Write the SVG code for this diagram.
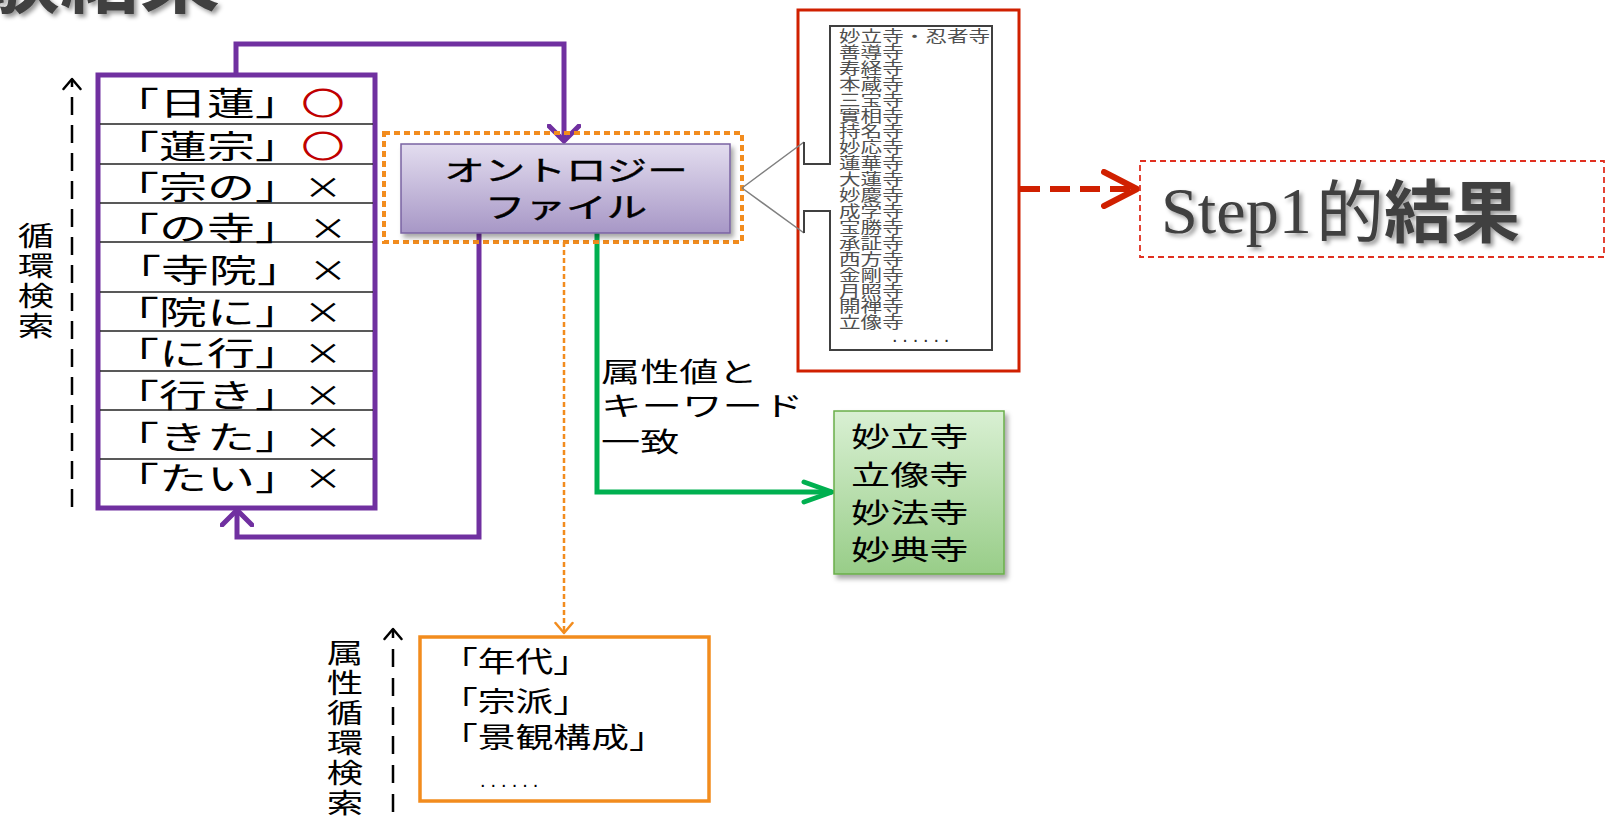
<svg xmlns="http://www.w3.org/2000/svg" width="1614" height="829" viewBox="0 0 1614 829">
<style>
.jp{font-family:"Noto Sans CJK JP","Noto Sans",sans-serif;fill:#000}
.row{font-size:32px}
.mk{font-size:30px}
.lab{font-size:27px}
.vt{font-size:27px;text-anchor:middle}
.lst{font-size:20px;fill:#505050}
.pur{fill:none;stroke:#7030a0;stroke-width:5}
.rl{stroke:#222;stroke-width:1.6}
</style>
<defs>
<linearGradient id="gP" x1="0" y1="0" x2="0" y2="1"><stop offset="0" stop-color="#e3ddef"/><stop offset="1" stop-color="#a797c6"/></linearGradient>
<linearGradient id="gG" x1="0" y1="0" x2="0" y2="1"><stop offset="0" stop-color="#d9f0d3"/><stop offset="1" stop-color="#98cd88"/></linearGradient>
<filter id="sh" x="-10%" y="-10%" width="130%" height="130%"><feDropShadow dx="3" dy="4" stdDeviation="2.5" flood-color="#000" flood-opacity="0.35"/></filter>
<filter id="tsh" x="-10%" y="-10%" width="130%" height="140%"><feDropShadow dx="3" dy="3" stdDeviation="2" flood-color="#000" flood-opacity="0.4"/></filter>
<marker id="mP" viewBox="0 0 20 34" markerWidth="20" markerHeight="34" refX="17" refY="17" orient="auto" markerUnits="userSpaceOnUse"><path d="M2,2 L17,17 L2,32" fill="none" stroke="#7030a0" stroke-width="5" stroke-linejoin="round" stroke-linecap="round"/></marker>
<marker id="mG" viewBox="0 0 34 26" markerWidth="34" markerHeight="26" refX="31" refY="13" orient="auto" markerUnits="userSpaceOnUse"><path d="M3,3 L31,13 L3,23" fill="none" stroke="#00b050" stroke-width="5" stroke-linejoin="round" stroke-linecap="round"/></marker>
<marker id="mO" viewBox="0 0 14 20" markerWidth="14" markerHeight="20" refX="12" refY="10" orient="auto" markerUnits="userSpaceOnUse"><path d="M2,1.5 L12,10 L2,18.5" fill="none" stroke="#f28c1e" stroke-width="2.5" stroke-linejoin="round" stroke-linecap="round"/></marker>
<marker id="mK" viewBox="0 0 14 20" markerWidth="14" markerHeight="20" refX="12" refY="10" orient="auto" markerUnits="userSpaceOnUse"><path d="M2,1.5 L12,10 L2,18.5" fill="none" stroke="#000" stroke-width="2.5" stroke-linejoin="round" stroke-linecap="round"/></marker>
<marker id="mR" viewBox="0 0 40 40" markerWidth="40" markerHeight="40" refX="36" refY="20" orient="auto" markerUnits="userSpaceOnUse"><path d="M3,3 L36,20 L3,37" fill="none" stroke="#d02000" stroke-width="6" stroke-linejoin="round" stroke-linecap="round"/></marker>
</defs>
<rect width="1614" height="829" fill="#fff"/>

<g id="title">
<text class="jp" x="-100" y="6" font-size="80" font-weight="700" style="fill:#404040" filter="url(#tsh)">実験結果</text>
</g>

<g id="connectors">
<path class="pur" d="M236,73 V44 H564 V141" marker-end="url(#mP)"/>
<path class="pur" d="M479,233 V537 H237 V510" marker-end="url(#mP)"/>
<path d="M564,242 V633" fill="none" stroke="#f28c1e" stroke-width="2.5" stroke-dasharray="5 3" marker-end="url(#mO)"/>
<path d="M597,233 V492 H832" fill="none" stroke="#00b050" stroke-width="5" marker-end="url(#mG)"/>
<path d="M1020,189 H1137" fill="none" stroke="#d02000" stroke-width="6" stroke-dasharray="20 10" marker-end="url(#mR)"/>
<path d="M72,507 V79" fill="none" stroke="#000" stroke-width="2.5" stroke-dasharray="18 10" marker-end="url(#mK)"/>
<path d="M393,812 V629" fill="none" stroke="#000" stroke-width="2.5" stroke-dasharray="18 11" marker-end="url(#mK)"/>
</g>

<g id="loop-label">
<text class="jp vt" transform="translate(36,0) scale(1.35,1)"><tspan x="0" y="246">循</tspan><tspan x="0" y="276">環</tspan><tspan x="0" y="306">検</tspan><tspan x="0" y="336">索</tspan></text>
</g>

<g id="keyword-list">
<rect x="98" y="75" width="277" height="433" fill="#fff" stroke="#7030a0" stroke-width="5"/>
<line class="rl" x1="100" y1="124" x2="373" y2="124"/>
<line class="rl" x1="100" y1="164" x2="373" y2="164"/>
<line class="rl" x1="100" y1="203" x2="373" y2="203"/>
<line class="rl" x1="100" y1="242" x2="373" y2="242"/>
<line class="rl" x1="100" y1="292" x2="373" y2="292"/>
<line class="rl" x1="100" y1="331" x2="373" y2="331"/>
<line class="rl" x1="100" y1="371" x2="373" y2="371"/>
<line class="rl" x1="100" y1="410" x2="373" y2="410"/>
<line class="rl" x1="100" y1="459" x2="373" y2="459"/>
<text class="jp row" transform="translate(111,115) scale(1.5,1)">「日蓮」</text>
<text class="jp row" transform="translate(111,158) scale(1.5,1)">「蓮宗」</text>
<text class="jp row" transform="translate(111,199) scale(1.5,1)">「宗の」</text>
<text class="jp row" transform="translate(111,240) scale(1.5,1)">「の寺」</text>
<text class="jp row" transform="translate(113,282) scale(1.5,1)">「寺院」</text>
<text class="jp row" transform="translate(111,324) scale(1.5,1)">「院に」</text>
<text class="jp row" transform="translate(111,365) scale(1.5,1)">「に行」</text>
<text class="jp row" transform="translate(111,407) scale(1.5,1)">「行き」</text>
<text class="jp row" transform="translate(111,449) scale(1.5,1)">「きた」</text>
<text class="jp row" transform="translate(111,490) scale(1.5,1)">「たい」</text>
<text class="jp mk" text-anchor="middle" transform="translate(323,114) scale(1.4,1)" style="fill:#c00000" stroke="#c00000" stroke-width="1">○</text>
<text class="jp mk" text-anchor="middle" transform="translate(323,157) scale(1.4,1)" style="fill:#c00000" stroke="#c00000" stroke-width="1">○</text>
<text class="jp mk" text-anchor="middle" transform="translate(323,198) scale(1.3,1)">×</text>
<text class="jp mk" text-anchor="middle" transform="translate(328,239) scale(1.3,1)">×</text>
<text class="jp mk" text-anchor="middle" transform="translate(328,281) scale(1.3,1)">×</text>
<text class="jp mk" text-anchor="middle" transform="translate(323,323) scale(1.3,1)">×</text>
<text class="jp mk" text-anchor="middle" transform="translate(323,364) scale(1.3,1)">×</text>
<text class="jp mk" text-anchor="middle" transform="translate(323,406) scale(1.3,1)">×</text>
<text class="jp mk" text-anchor="middle" transform="translate(323,448) scale(1.3,1)">×</text>
<text class="jp mk" text-anchor="middle" transform="translate(323,489) scale(1.3,1)">×</text>
</g>

<g id="ontology">
<rect x="384" y="133" width="358" height="109" fill="none" stroke="#f28c1e" stroke-width="4" stroke-dasharray="6 4"/>
<rect x="401" y="144" width="329" height="89" fill="url(#gP)" stroke="#7a63a2" stroke-width="1.5" filter="url(#sh)"/>
<text class="jp" font-size="28" text-anchor="middle" stroke="#000" stroke-width="0.4" transform="translate(566,181) scale(1.45,1)">オントロジー</text>
<text class="jp" font-size="28" text-anchor="middle" stroke="#000" stroke-width="0.4" transform="translate(566,218) scale(1.45,1)">ファイル</text>
</g>

<g id="result-list">
<rect x="798" y="10" width="221" height="361" fill="#fff" stroke="#d02000" stroke-width="3"/>
<path d="M742,188 L804,142 M742,188 L804,233" fill="none" stroke="#808080" stroke-width="1.5"/>
<path d="M804,142 V164 H830 V26 H992 V350 H830 V211 H804 V233" fill="none" stroke="#404040" stroke-width="2"/>
<text class="jp lst" transform="translate(839,0) scale(1.08,0.78)"><tspan x="0" y="53.8">妙立寺・忍者寺</tspan><tspan x="0" y="74.2">善導寺</tspan><tspan x="0" y="94.6">寿経寺</tspan><tspan x="0" y="115">本蔵寺</tspan><tspan x="0" y="135.4">三宝寺</tspan><tspan x="0" y="155.8">實相寺</tspan><tspan x="0" y="176.2">持名寺</tspan><tspan x="0" y="196.6">妙応寺</tspan><tspan x="0" y="217">蓮華寺</tspan><tspan x="0" y="237.4">大蓮寺</tspan><tspan x="0" y="257.8">妙慶寺</tspan><tspan x="0" y="278.2">成学寺</tspan><tspan x="0" y="298.6">宝勝寺</tspan><tspan x="0" y="319">承証寺</tspan><tspan x="0" y="339.4">西方寺</tspan><tspan x="0" y="359.8">金剛寺</tspan><tspan x="0" y="380.2">月照寺</tspan><tspan x="0" y="400.6">開禅寺</tspan><tspan x="0" y="421">立像寺</tspan></text>
<text x="892" y="342" font-family="Liberation Sans, sans-serif" font-size="20" letter-spacing="4.8" fill="#333">......</text>
</g>

<g id="step1">
<rect x="1140" y="161" width="464" height="96" fill="none" stroke="#e03020" stroke-width="1.8" stroke-dasharray="6 4"/>
<g filter="url(#tsh)">
<text x="1161" y="233" font-family="Liberation Serif, serif" font-size="66" fill="#404040" textLength="151" lengthAdjust="spacingAndGlyphs">Step1</text>
<text x="1316" y="237" font-family="Noto Sans CJK JP, sans-serif" font-size="68" fill="#404040">的<tspan font-weight="700">結果</tspan></text>
</g>
</g>

<g id="match-label">
<text class="jp lab" transform="translate(601,382) scale(1.45,1)">属性値と</text>
<text class="jp lab" transform="translate(601,416) scale(1.5,1)">キーワード</text>
<text class="jp lab" transform="translate(601,452) scale(1.45,1)">一致</text>
</g>

<g id="matched">
<rect x="834" y="411" width="170" height="163" fill="url(#gG)" stroke="#6aae4a" stroke-width="1.5" filter="url(#sh)"/>
<text class="jp lab" transform="translate(851,447) scale(1.45,1)">妙立寺</text>
<text class="jp lab" transform="translate(851,485) scale(1.45,1)">立像寺</text>
<text class="jp lab" transform="translate(851,523) scale(1.45,1)">妙法寺</text>
<text class="jp lab" transform="translate(851,560) scale(1.45,1)">妙典寺</text>
</g>

<g id="attributes">
<rect x="420" y="637" width="289" height="164" fill="#fff" stroke="#f28c1e" stroke-width="3.5"/>
<text class="jp" font-size="28" transform="translate(440,672) scale(1.35,1)">「年代」</text>
<text class="jp" font-size="28" transform="translate(440,712) scale(1.35,1)">「宗派」</text>
<text class="jp" font-size="28" transform="translate(440,748) scale(1.35,1)">「景観構成」</text>
<text x="480" y="787" font-family="Liberation Sans, sans-serif" font-size="20" letter-spacing="5" fill="#000">......</text>
</g>

<g id="attr-loop-label">
<text class="jp vt" transform="translate(345,0) scale(1.35,1)"><tspan x="0" y="663">属</tspan><tspan x="0" y="693">性</tspan><tspan x="0" y="723">循</tspan><tspan x="0" y="753">環</tspan><tspan x="0" y="783">検</tspan><tspan x="0" y="813">索</tspan></text>
</g>
</svg>
